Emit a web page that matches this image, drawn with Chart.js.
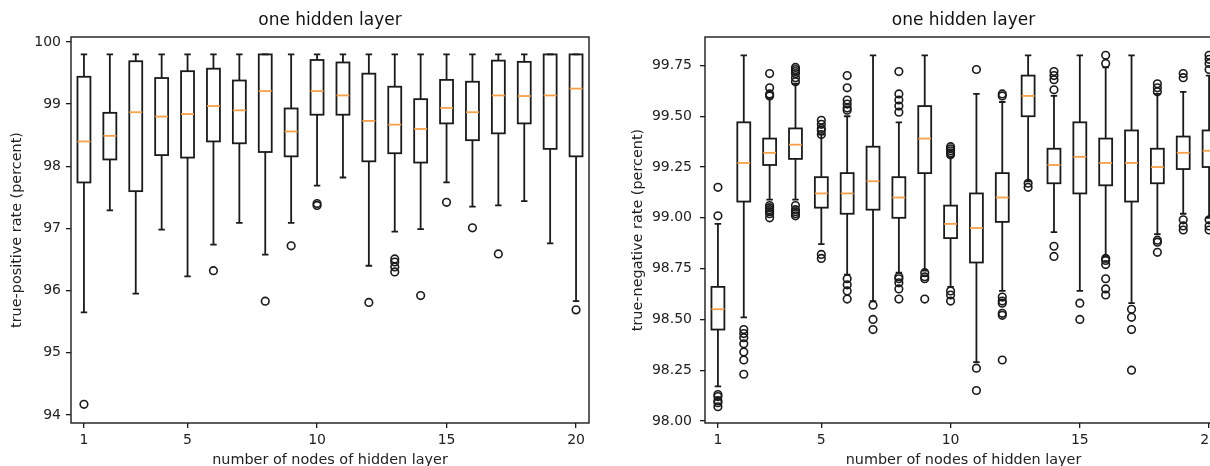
<!DOCTYPE html>
<html>
<head>
<meta charset="utf-8">
<script src="https://cdn.jsdelivr.net/npm/chart.js@4"></script>
<style>
html, body { margin: 0; padding: 0; background: #fff; overflow: hidden; }
#wrap { position: relative; width: 1210px; height: 466px; overflow: hidden; background: #fff; }
#left { position: absolute; left: 0; top: 0; }
#right { position: absolute; left: 600px; top: 0; }
</style>
</head>
<body>
<div id="wrap">
  <canvas id="left" width="600" height="472"></canvas>
  <canvas id="right" width="640" height="472"></canvas>
</div>
<script>
const nodes = [1, 2, 3, 4, 5, 6, 7, 8, 9, 10, 11, 12, 13, 14, 15, 16, 17, 18, 19, 20];
const xTicks = [1, 5, 10, 15, 20];

// true-positive rate, one box per node count
const tpHigh = [99.8, 99.8, 99.8, 99.8, 99.8, 99.8, 99.8, 99.8, 99.8, 99.8,
                99.8, 99.8, 99.8, 99.8, 99.8, 99.8, 99.8, 99.8, 99.8, 99.8];
const tpQ3 = [99.44, 98.86, 99.69, 99.42, 99.53, 99.57, 99.38, 99.8, 98.93, 99.71,
              99.67, 99.49, 99.28, 99.08, 99.39, 99.36, 99.70, 99.68, 99.8, 99.8];
const tpMedian = [98.40, 98.49, 98.87, 98.80, 98.84, 98.97, 98.90, 99.21, 98.56, 99.21,
                  99.14, 98.73, 98.67, 98.60, 98.94, 98.87, 99.14, 99.13, 99.14, 99.25];
const tpQ1 = [97.74, 98.11, 97.60, 98.18, 98.14, 98.40, 98.37, 98.23, 98.16, 98.83,
              98.83, 98.08, 98.21, 98.06, 98.69, 98.42, 98.53, 98.69, 98.28, 98.16];
const tpLow = [95.65, 97.29, 95.95, 96.98, 96.23, 96.74, 97.09, 96.58, 97.09, 97.69,
               97.82, 96.40, 96.95, 96.99, 97.74, 97.35, 97.37, 97.44, 96.76, 95.83];
const tpOutliers = [[94.17], [], [], [], [], [96.32], [], [95.83], [96.72], [97.37, 97.40],
                    [], [95.81], [96.51, 96.46, 96.38, 96.30], [95.92], [97.42], [97.01], [96.59], [], [], [95.69]];
const tpTicks = [94, 95, 96, 97, 98, 99, 100];

// true-negative rate
const tnHigh = [98.97, 99.80, 99.59, 99.66, 99.41, 99.50, 99.80, 99.47, 99.80, 99.30,
                99.61, 99.57, 99.80, 99.60, 99.80, 99.74, 99.80, 99.61, 99.62, 99.70];
const tnQ3 = [98.66, 99.47, 99.39, 99.44, 99.20, 99.22, 99.35, 99.20, 99.55, 99.06,
              99.12, 99.22, 99.70, 99.34, 99.47, 99.39, 99.43, 99.34, 99.40, 99.43];
const tnMedian = [98.55, 99.27, 99.32, 99.36, 99.12, 99.12, 99.18, 99.10, 99.39, 98.97,
                  98.95, 99.10, 99.60, 99.26, 99.30, 99.27, 99.27, 99.25, 99.32, 99.33];
const tnQ1 = [98.45, 99.08, 99.26, 99.29, 99.05, 99.02, 99.04, 99.00, 99.22, 98.90,
              98.78, 98.98, 99.50, 99.17, 99.12, 99.16, 99.08, 99.17, 99.24, 99.25];
const tnLow = [98.17, 98.51, 99.09, 99.09, 98.87, 98.72, 98.59, 98.73, 98.74, 98.66,
               98.29, 98.64, 99.18, 98.93, 98.64, 98.81, 98.58, 98.92, 99.02, 99.00];
const tnOutliers = [
  [99.15, 99.01, 98.13, 98.12, 98.10, 98.09, 98.07],
  [98.45, 98.43, 98.41, 98.38, 98.34, 98.30, 98.23],
  [99.71, 99.64, 99.61, 99.60, 99.06, 99.05, 99.04, 99.03, 99.02, 99.00],
  [99.74, 99.73, 99.72, 99.71, 99.69, 99.67, 99.06, 99.04, 99.03, 99.02, 99.01],
  [99.48, 99.46, 99.44, 99.43, 99.41, 98.82, 98.80],
  [99.70, 99.64, 99.58, 99.56, 99.54, 99.53, 98.70, 98.67, 98.64, 98.60],
  [98.57, 98.50, 98.45],
  [99.72, 99.61, 99.58, 99.55, 99.52, 98.71, 98.70, 98.68, 98.65, 98.60],
  [98.73, 98.71, 98.70, 98.60],
  [99.35, 99.34, 99.33, 99.32, 99.31, 98.64, 98.62, 98.59],
  [99.73, 98.26, 98.15],
  [99.61, 99.60, 98.61, 98.59, 98.58, 98.53, 98.52, 98.30],
  [99.17, 99.15],
  [99.72, 99.70, 99.68, 99.63, 98.86, 98.81],
  [98.58, 98.50],
  [99.80, 99.76, 98.80, 98.79, 98.77, 98.70, 98.65, 98.62],
  [98.55, 98.51, 98.45, 98.25],
  [99.66, 99.64, 99.62, 98.89, 98.88, 98.83],
  [99.71, 99.69, 98.99, 98.96, 98.94],
  [99.80, 99.78, 99.76, 99.73, 98.99, 98.96, 98.94]
];
const tnTicks = [98.00, 98.25, 98.50, 98.75, 99.00, 99.25, 99.50, 99.75];

const FONT = 'DejaVu Sans';
const INK = '#1a1a1a';

function boxPlugin(stats, title) {
  return {
    id: 'boxes',
    beforeDatasetsDraw(chart) {
      const {ctx, scales: {x, y}} = chart;
      ctx.save();
      ctx.lineWidth = 1.8;
      for (let i = 0; i < nodes.length; i++) {
        const cx = x.getPixelForValue(nodes[i]);
        const hw = x.getPixelForValue(nodes[i] + 0.25) - cx;
        const cw = hw / 2;
        const yLo = y.getPixelForValue(stats.low[i]);
        const yQ1 = y.getPixelForValue(stats.q1[i]);
        const yMd = y.getPixelForValue(stats.median[i]);
        const yQ3 = y.getPixelForValue(stats.q3[i]);
        const yHi = y.getPixelForValue(stats.high[i]);
        ctx.strokeStyle = INK;
        ctx.beginPath();
        ctx.moveTo(cx, yLo); ctx.lineTo(cx, yQ1);
        ctx.moveTo(cx, yQ3); ctx.lineTo(cx, yHi);
        ctx.moveTo(cx - cw, yLo); ctx.lineTo(cx + cw, yLo);
        ctx.moveTo(cx - cw, yHi); ctx.lineTo(cx + cw, yHi);
        ctx.stroke();
        ctx.strokeRect(cx - hw, yQ3, hw * 2, yQ1 - yQ3);
        ctx.strokeStyle = '#f5a04a';
        ctx.beginPath();
        ctx.moveTo(cx - hw, yMd); ctx.lineTo(cx + hw, yMd);
        ctx.stroke();
      }
      ctx.restore();
    },
    afterDraw(chart) {
      const {ctx, chartArea: a} = chart;
      ctx.save();
      ctx.strokeStyle = INK;
      ctx.lineWidth = 1.4;
      ctx.strokeRect(a.left, a.top, a.right - a.left, a.bottom - a.top);
      ctx.fillStyle = '#111';
      ctx.font = '17px "' + FONT + '"';
      ctx.textAlign = 'center';
      ctx.textBaseline = 'middle';
      ctx.fillText(title, (a.left + a.right) / 2, 21);
      ctx.restore();
    }
  };
}

function makeChart(id, o) {
  const points = [];
  o.outliers.forEach((list, i) => list.forEach(v => points.push({x: nodes[i], y: v})));
  return new Chart(document.getElementById(id), {
    type: 'scatter',
    data: {
      datasets: [{
        data: points,
        pointStyle: 'circle',
        pointRadius: 3.8,
        pointBorderWidth: 1.6,
        pointBackgroundColor: 'rgba(0,0,0,0)',
        pointBorderColor: INK
      }]
    },
    options: {
      responsive: false,
      animation: false,
      events: [],
      layout: {padding: {top: 37, right: o.rightPad, left: 0, bottom: 0}},
      plugins: {legend: {display: false}, tooltip: {enabled: false}},
      scales: {
        x: {
          type: 'linear',
          min: 0.5,
          max: 20.5,
          afterBuildTicks: s => { s.ticks = xTicks.map(v => ({value: v})); },
          afterFit: s => { s.height = 49; },
          border: {display: false},
          grid: {drawOnChartArea: false, drawTicks: true, tickLength: 5, color: INK, lineWidth: 1.3},
          ticks: {color: '#222', font: {family: FONT, size: 14}, padding: 4, maxRotation: 0},
          title: {display: true, text: 'number of nodes of hidden layer', color: '#222',
                  font: {family: FONT, size: 14.4}, padding: {top: 0, bottom: 3.4}}
        },
        y: {
          min: o.yMin,
          max: o.yMax,
          afterBuildTicks: s => { s.ticks = o.yTicks.map(v => ({value: v})); },
          afterFit: s => { s.width = o.yWidth; },
          border: {display: false},
          grid: {drawOnChartArea: false, drawTicks: true, tickLength: 5, color: INK, lineWidth: 1.3},
          ticks: {color: '#222', font: {family: FONT, size: 14}, padding: o.tickPad,
                  callback: v => o.fmt(v)},
          title: {display: true, text: o.yLabel, color: '#222',
                  font: {family: FONT, size: 14.4}, padding: {top: o.titlePad, bottom: 0}}
        }
      }
    },
    plugins: [boxPlugin(o.stats, o.title)]
  });
}

makeChart('left', {
  stats: {low: tpLow, q1: tpQ1, median: tpMedian, q3: tpQ3, high: tpHigh},
  outliers: tpOutliers,
  yMin: 93.87, yMax: 100.08, yTicks: tpTicks,
  fmt: v => String(v),
  yLabel: 'true-positive rate (percent)',
  title: 'one hidden layer',
  yWidth: 71, rightPad: 11, tickPad: 5, titlePad: 8.5
});

makeChart('right', {
  stats: {low: tnLow, q1: tnQ1, median: tnMedian, q3: tnQ3, high: tnHigh},
  outliers: tnOutliers,
  yMin: 97.99, yMax: 99.89, yTicks: tnTicks,
  fmt: v => v.toFixed(2),
  yLabel: 'true-negative rate (percent)',
  title: 'one hidden layer',
  yWidth: 105, rightPad: 18, tickPad: 8, titlePad: 29.5
});
</script>
</body>
</html>
